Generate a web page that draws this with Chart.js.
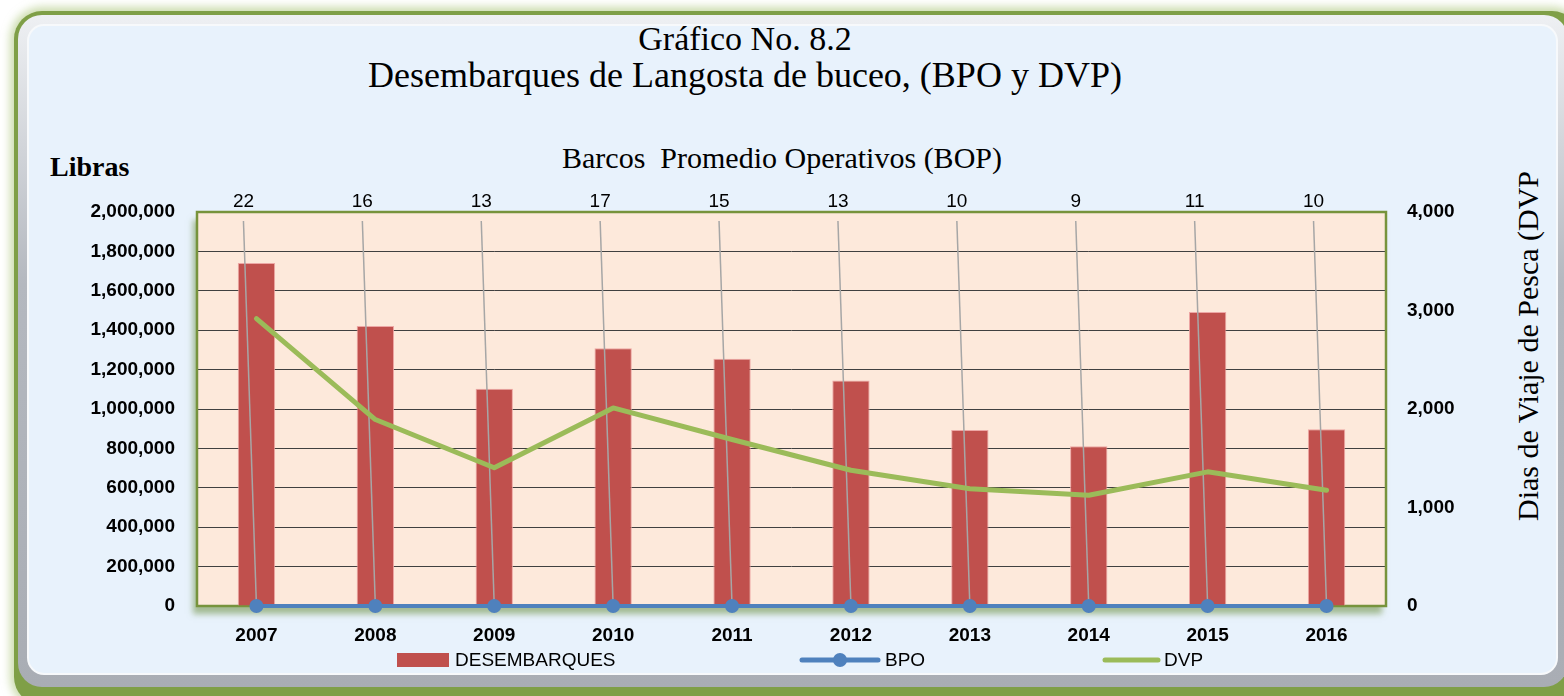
<!DOCTYPE html>
<html>
<head>
<meta charset="utf-8">
<script src="https://cdn.jsdelivr.net/npm/chart.js@4"></script>
<style>
  body { margin: 0; background: #ffffff; width: 1564px; height: 696px; overflow: hidden; position: relative; }
  #outer { position: absolute; left: 14px; top: 11px; width: 1566px; height: 694px; border-radius: 28px;
           background: #7f9f47; box-shadow: 0 0 9px 4px rgba(170, 196, 120, 0.6); }
  #bevel { position: absolute; left: 18px; top: 15px; width: 1550px; height: 672px; border-radius: 24px;
           background: linear-gradient(#eef0f3, #b4b8bf 40%, #a9adb4); }
  #panel { position: absolute; left: 29px; top: 26px; width: 1527px; height: 647px; border-radius: 15px;
           background: #e8f2fc; box-shadow: 0 0 0 2px #f7f9fb; }
  .txt { position: absolute; font-family: "Liberation Serif", serif; color: #000; white-space: nowrap; }
  #t1 { left: 0; width: 1490px; top: 20px; text-align: center; font-size: 34px; }
  #t2 { left: 0; width: 1490px; top: 54px; text-align: center; font-size: 36px; }
  #t3 { left: 0; width: 1564px; top: 141px; text-align: center; font-size: 30px; }
  #libras { left: 50px; top: 151px; font-size: 28px; font-weight: bold; }
  #dvpTitle { left: 1528px; top: 346px; font-size: 30px; transform: translate(-50%, -50%) rotate(-90deg); }
  canvas { position: absolute; left: 0; top: 0; }
</style>
</head>
<body>
<div id="outer"></div>
<div id="bevel"></div>
<div id="panel"></div>
<div class="txt" id="t1">Gráfico No. 8.2</div>
<div class="txt" id="t2">Desembarques de Langosta de buceo, (BPO y DVP)</div>
<div class="txt" id="t3">Barcos&nbsp; Promedio Operativos (BOP)</div>
<div class="txt" id="libras">Libras</div>
<div class="txt" id="dvpTitle">Dias de Viaje de Pesca (DVP</div>
<canvas id="chart" width="1564" height="696"></canvas>
<script>
const years = ['2007', '2008', '2009', '2010', '2011', '2012', '2013', '2014', '2015', '2016'];
const desembarques = [1741000, 1421000, 1103000, 1308000, 1255000, 1145000, 894000, 811000, 1492000, 897000];
const bpo = [22, 16, 13, 17, 15, 13, 10, 9, 11, 10];
const dvp = [2917, 1893, 1403, 2011, 1690, 1378, 1190, 1125, 1362, 1175];

const RED = '#c0504d';
const BLUE = '#4f81bd';
const GREEN = '#9bbb59';
const tickFont = { family: '"Liberation Sans", Arial, sans-serif', size: 19, weight: 'bold' };

// peach plot area with soft green shadow and border
const plotFrame = {
    id: 'plotFrame',
    beforeDraw(chart) {
        const { ctx, chartArea: a } = chart;
        ctx.save();
        ctx.shadowColor = 'rgba(105, 140, 60, 0.55)';
        ctx.shadowBlur = 6;
        ctx.shadowOffsetX = -4;
        ctx.shadowOffsetY = 8;
        ctx.fillStyle = '#fde9db';
        ctx.fillRect(a.left, a.top, a.right - a.left, a.bottom - a.top);
        ctx.restore();
    },
    beforeDatasetsDraw(chart) {
        const { ctx, chartArea: a } = chart;
        ctx.save();
        ctx.strokeStyle = '#77933c';
        ctx.lineWidth = 2.5;
        ctx.strokeRect(a.left, a.top, a.right - a.left, a.bottom - a.top);
        ctx.restore();
    }
};

// BOP labels above the plot, with leader lines down to the BPO points
const bopLabels = {
    id: 'bopLabels',
    afterDatasetDraw(chart, args) {
        if (args.index !== 0) return;
        const { ctx, chartArea: a } = chart;
        const meta = chart.getDatasetMeta(1);
        ctx.save();
        ctx.font = '19px "Liberation Sans", Arial, sans-serif';
        ctx.fillStyle = '#000';
        ctx.textAlign = 'center';
        ctx.textBaseline = 'middle';
        meta.data.forEach((pt, i) => {
            const lx = pt.x - 13;
            ctx.fillText(String(bpo[i]), lx, a.top - 10);
            ctx.strokeStyle = '#a6a6a6';
            ctx.lineWidth = 1.5;
            ctx.beginPath();
            ctx.moveTo(lx, a.top + 9);
            ctx.lineTo(pt.x, pt.y);
            ctx.stroke();
        });
        ctx.restore();
    }
};

const customLegend = {
    id: 'customLegend',
    afterDraw(chart) {
        const { ctx } = chart;
        const y = 660;
        const ds = chart.data.datasets;
        ctx.save();
        ctx.font = '19px "Liberation Sans", Arial, sans-serif';
        ctx.fillStyle = '#000';
        ctx.textBaseline = 'middle';
        ctx.textAlign = 'left';

        ctx.fillStyle = RED;
        ctx.fillRect(397, y - 7, 52, 14);
        ctx.fillStyle = '#000';
        ctx.fillText(ds[0].label, 455, y + 1);

        ctx.strokeStyle = BLUE;
        ctx.lineWidth = 5;
        ctx.lineCap = 'round';
        ctx.beginPath();
        ctx.moveTo(802, y);
        ctx.lineTo(878, y);
        ctx.stroke();
        ctx.fillStyle = BLUE;
        ctx.beginPath();
        ctx.arc(840, y, 7, 0, Math.PI * 2);
        ctx.fill();
        ctx.fillStyle = '#000';
        ctx.fillText(ds[1].label, 885, y + 1);

        ctx.strokeStyle = GREEN;
        ctx.beginPath();
        ctx.moveTo(1105, y);
        ctx.lineTo(1158, y);
        ctx.stroke();
        ctx.fillText(ds[2].label, 1164, y + 1);
        ctx.restore();
    }
};

new Chart(document.getElementById('chart').getContext('2d'), { // eslint-disable-line
    type: 'bar',
    data: {
        labels: years,
        datasets: [
            {
                label: 'DESEMBARQUES',
                data: desembarques,
                backgroundColor: RED,
                borderColor: 'rgba(235, 160, 158, 0.9)',
                borderWidth: 1,
                barPercentage: 0.314,
                categoryPercentage: 1,
                yAxisID: 'y',
                order: 3
            },
            {
                type: 'line',
                label: 'BPO',
                data: bpo,
                borderColor: BLUE,
                backgroundColor: BLUE,
                borderWidth: 4,
                pointRadius: 7,
                pointBorderWidth: 0,
                pointBackgroundColor: BLUE,
                tension: 0,
                clip: false,
                yAxisID: 'y',
                order: 1
            },
            {
                type: 'line',
                label: 'DVP',
                data: dvp,
                borderColor: GREEN,
                backgroundColor: GREEN,
                borderWidth: 5,
                borderCapStyle: 'round',
                borderJoinStyle: 'round',
                pointRadius: 0,
                tension: 0,
                yAxisID: 'y1',
                order: 2
            }
        ]
    },
    options: {
        responsive: false,
        animation: false,
        layout: { padding: { top: 212, left: 0, right: 0, bottom: 0 } },
        plugins: {
            legend: { display: false },
            title: { display: false },
            tooltip: { enabled: false }
        },
        scales: {
            x: {
                grid: { display: false, drawTicks: false },
                border: { display: false },
                ticks: { font: tickFont, color: '#000', padding: 18 },
                afterFit: (scale) => { scale.height = 90; }
            },
            y: {
                position: 'left',
                min: 0,
                max: 2000000,
                grid: { color: '#404040', lineWidth: 1, drawTicks: false },
                border: { display: false },
                ticks: {
                    stepSize: 200000,
                    font: tickFont,
                    color: '#000',
                    padding: 22,
                    callback: (v) => v.toLocaleString('en-US')
                },
                afterFit: (scale) => { scale.width = 197; }
            },
            y1: {
                position: 'right',
                min: 0,
                max: 4000,
                grid: { display: false, drawTicks: false },
                border: { display: false },
                ticks: {
                    stepSize: 1000,
                    font: tickFont,
                    color: '#000',
                    padding: 21,
                    callback: (v) => v.toLocaleString('en-US')
                },
                afterFit: (scale) => { scale.width = 178; }
            }
        }
    },
    plugins: [plotFrame, bopLabels, customLegend]
});
</script>
</body>
</html>
